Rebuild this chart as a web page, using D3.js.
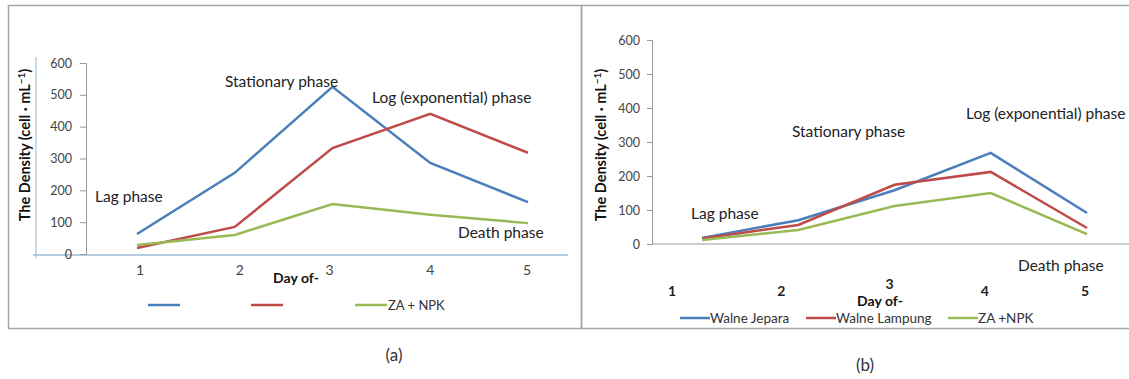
<!DOCTYPE html>
<html>
<head>
<meta charset="utf-8">
<script src="https://cdn.jsdelivr.net/npm/d3@7"></script>
<style>
  body { margin: 0; background: #fff; }
  text { font-family: Lato, "Open Sans", sans-serif; }
</style>
</head>
<body>
<div id="chart"></div>
<script>
// data
const days = [1, 2, 3, 4, 5];
const yTicks = [0, 100, 200, 300, 400, 500, 600];

const aBlue = [63, 255, 525, 286, 163];
const aRed = [19, 85, 333, 440, 318];
const aGreen = [28, 60, 157, 123, 97];

const bJepara = [18, 70, 158, 268, 91];
const bLampung = [16, 56, 174, 212, 47];
const bZaNpk = [12, 41, 112, 150, 29];

const colors = { blue: "#4a7ebb", red: "#be4b48", green: "#98b954" };

const svg = d3.select("#chart").append("svg")
  .attr("width", 1129).attr("height", 379);

// frames
svg.append("rect").attr("x", 8.5).attr("y", 5.5).attr("width", 573).attr("height", 323)
  .attr("fill", "none").attr("stroke", "#a6a6a6").attr("stroke-width", 1.5);
svg.append("path").attr("d", "M1129,5.5 H581.5 V328.5 H1129")
  .attr("fill", "none").attr("stroke", "#a6a6a6").attr("stroke-width", 1.5);

// ---------- panel (a)
const xa = d3.scaleLinear().domain([1, 5]).range([137, 528]);
const ya = d3.scaleLinear().domain([0, 600]).range([254, 63]);
const gA = svg.append("g");

// decorative light blue lines
gA.append("line").attr("x1", 36).attr("x2", 36).attr("y1", 57).attr("y2", 258)
  .attr("stroke", "#a8c4dc").attr("stroke-width", 1.2);
gA.append("line").attr("x1", 33).attr("x2", 568).attr("y1", ya(0) + 1).attr("y2", ya(0) + 1)
  .attr("stroke", "#9dbdd6").attr("stroke-width", 1.5);

const axA = gA.append("g").attr("transform", "translate(86,0)")
  .call(d3.axisLeft(ya).tickValues(yTicks).tickSize(6).tickPadding(8));
axA.select(".domain").attr("stroke", "#999");
axA.selectAll(".tick line").attr("stroke", "#999");
axA.selectAll(".tick text").attr("fill", "#444").attr("font-size", 12.5);

const xLabA = d3.scaleLinear().domain([1, 5]).range([140, 527]);
gA.selectAll(".xla").data(days).join("text")
  .attr("x", d => xLabA(d) + (d === 2 ? 3 : 0) - (d === 3 ? 4 : 0))
  .attr("y", 275)
  .attr("text-anchor", "middle").attr("font-size", 14).attr("fill", "#444")
  .text(d => d);
gA.append("text").attr("x", 296).attr("y", 283).attr("text-anchor", "middle")
  .attr("font-size", 14).attr("font-weight", "bold").attr("fill", "#111").text("Day of-");

gA.append("text").attr("transform", "translate(30,145) rotate(-90)")
  .attr("text-anchor", "middle").attr("font-size", 14.5).attr("font-weight", "bold").attr("fill", "#111")
  .html('The Density (cell · mL<tspan dy="-5" font-size="10">−1</tspan><tspan dy="5">)</tspan>');

const lineA = d3.line().x((d, i) => xa(days[i])).y(d => ya(d));
[[aBlue, colors.blue], [aRed, colors.red], [aGreen, colors.green]].forEach(([s, c]) => {
  gA.append("path").datum(s).attr("d", lineA).attr("fill", "none")
    .attr("stroke", c).attr("stroke-width", 2.5);
});

const annA = [
  ["Lag phase", 95, 202],
  ["Stationary phase", 225, 87],
  ["Log (exponential) phase", 372, 103],
  ["Death phase", 458, 238]
];
gA.selectAll(".ann").data(annA).join("text")
  .attr("x", d => d[1]).attr("y", d => d[2]).attr("font-size", 15.5).attr("fill", "#222")
  .text(d => d[0]);

// legend (a)
const legA = [[colors.blue, 148, ""], [colors.red, 251, ""], [colors.green, 355, "ZA + NPK"]];
legA.forEach(([c, x, t]) => {
  gA.append("line").attr("x1", x).attr("x2", x + 32).attr("y1", 305).attr("y2", 305)
    .attr("stroke", c).attr("stroke-width", 2.5);
  gA.append("text").attr("x", x + 33).attr("y", 310).attr("font-size", 13).attr("fill", "#333").text(t);
});
svg.append("text").attr("x", 394).attr("y", 361).attr("text-anchor", "middle")
  .attr("font-size", 17).attr("fill", "#333").text("(a)");

// ---------- panel (b)
const xb = d3.scaleLinear().domain([1, 5]).range([702, 1087]);
const yb = d3.scaleLinear().domain([0, 600]).range([244, 40]);
const gB = svg.append("g");

gB.append("line").attr("x1", 652).attr("x2", 1129).attr("y1", yb(0)).attr("y2", yb(0))
  .attr("stroke", "#999").attr("stroke-width", 1.2);
const axB = gB.append("g").attr("transform", "translate(652,0)")
  .call(d3.axisLeft(yb).tickValues(yTicks).tickSize(5).tickPadding(7));
axB.select(".domain").attr("stroke", "#999");
axB.selectAll(".tick line").attr("stroke", "#999");
axB.selectAll(".tick text").attr("fill", "#444").attr("font-size", 12.5);

const xLabB = d3.scaleLinear().domain([1, 5]).range([672, 1085]);
gB.selectAll(".xlb").data(days).join("text")
  .attr("x", d => xLabB(d) + (d === 2 ? 6 : 0) + (d === 3 ? 11 : 0) + (d === 4 ? 3 : 0))
  .attr("y", d => d === 3 ? 289 : 296)
  .attr("text-anchor", "middle").attr("font-size", 14).attr("font-weight", "bold").attr("fill", "#222")
  .text(d => d);
gB.append("text").attr("x", 880).attr("y", 306).attr("text-anchor", "middle")
  .attr("font-size", 14).attr("font-weight", "bold").attr("fill", "#111").text("Day of-");

gB.append("text").attr("transform", "translate(606,145) rotate(-90)")
  .attr("text-anchor", "middle").attr("font-size", 14.5).attr("font-weight", "bold").attr("fill", "#111")
  .html('The Density (cell · mL<tspan dy="-5" font-size="10">−1</tspan><tspan dy="5">)</tspan>');

const lineB = d3.line().x((d, i) => xb(days[i])).y(d => yb(d));
[[bJepara, colors.blue], [bLampung, colors.red], [bZaNpk, colors.green]].forEach(([s, c]) => {
  gB.append("path").datum(s).attr("d", lineB).attr("fill", "none")
    .attr("stroke", c).attr("stroke-width", 2.5);
});

const annB = [
  ["Lag phase", 691, 219],
  ["Stationary phase", 792, 137],
  ["Log (exponential) phase", 966, 119],
  ["Death phase", 1018, 271]
];
gB.selectAll(".ann").data(annB).join("text")
  .attr("x", d => d[1]).attr("y", d => d[2]).attr("font-size", 15.5).attr("fill", "#222")
  .text(d => d[0]);

const legB = [[colors.blue, 680, "Walne Jepara"], [colors.red, 806, "Walne Lampung"], [colors.green, 948, "ZA +NPK"]];
legB.forEach(([c, x, t]) => {
  gB.append("line").attr("x1", x).attr("x2", x + 30).attr("y1", 318).attr("y2", 318)
    .attr("stroke", c).attr("stroke-width", 2.5);
  gB.append("text").attr("x", x + 30).attr("y", 323).attr("font-size", 13.5).attr("fill", "#333").text(t);
});
svg.append("text").attr("x", 865).attr("y", 371).attr("text-anchor", "middle")
  .attr("font-size", 17).attr("fill", "#333").text("(b)");
</script>
</body>
</html>
